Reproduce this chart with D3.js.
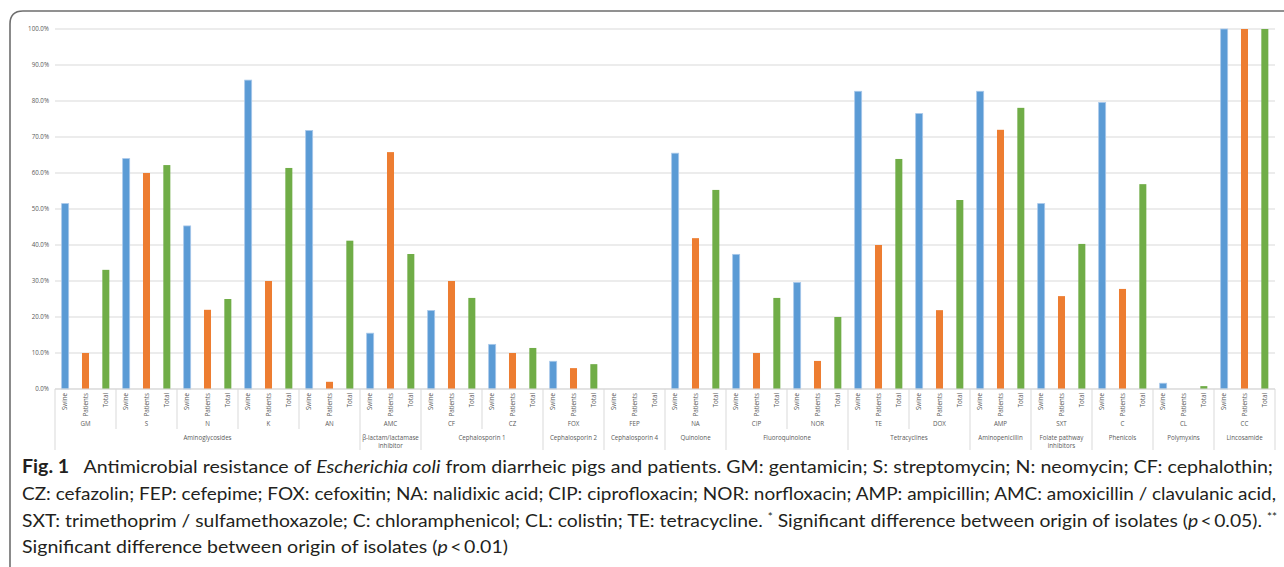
<!DOCTYPE html>
<html>
<head>
<meta charset="utf-8">
<script src="https://cdn.jsdelivr.net/npm/d3@7"></script>
<style>
  html, body { margin: 0; padding: 0; background: #fff; }
  svg { display: block; }
</style>
</head>
<body>
<svg id="chart" width="1284" height="567"></svg>
<script>
// ---------- data ----------
const drugs   = ["GM","S","N","K","AN","AMC","CF","CZ","FOX","FEP","NA","CIP","NOR","TE","DOX","AMP","SXT","C","CL","CC"];
const drugClass = ["Aminoglycosides","Aminoglycosides","Aminoglycosides","Aminoglycosides","Aminoglycosides",
  "β-lactam/lactamase inhibitor","Cephalosporin 1","Cephalosporin 1","Cephalosporin 2","Cephalosporin 4",
  "Quinolone","Fluoroquinolone","Fluoroquinolone","Tetracyclines","Tetracyclines","Aminopenicillin",
  "Folate pathway inhibitors","Phenicols","Polymyxins","Lincosamide"];
const series  = ["Swine","Patients","Total"];
const swine    = [51.5,64.0,45.3,85.8,71.8,15.5,21.8,12.4,7.7,0,65.5,37.4,29.6,82.7,76.5,82.7,51.5,79.6,1.6,100];
const patients = [10.0,60.0,22.0,30.0,2.0,65.8,30.0,10.0,5.8,0,41.9,10.0,7.8,40.0,21.9,72.0,25.8,27.8,0,100];
const total    = [33.1,62.2,25.0,61.4,41.2,37.5,25.3,11.4,6.9,0,55.3,25.3,20.0,63.9,52.5,78.1,40.3,56.9,0.8,100];
const yTicks   = [0,10,20,30,40,50,60,70,80,90,100];
const classLines = {
  "β-lactam/lactamase inhibitor": ["β-lactam/lactamase","inhibitor"],
  "Folate pathway inhibitors": ["Folate pathway","inhibitors"]
};

(function(){
// ---------- styles ----------
const colors = {Swine:"#5b9bd5", Patients:"#ed7d31", Total:"#70ad47"};
const gridColor = "#d9d9d9";
const labelColor = "#595959";
const labelFont = "Open Sans, sans-serif";

const svg = d3.select("#chart");

// frame
svg.append("path")
  .attr("d", "M10,1300 L10,24 Q10,11 23,11 L1300,11")
  .attr("fill","none").attr("stroke","#6e6e6e").attr("stroke-width",1.6);

const pLeft = 55, pRight = 1275, pTop = 29, pBottom = 389;

const x0 = d3.scaleBand().domain(drugs).range([pLeft, pRight]).paddingInner(0).paddingOuter(0);
const x1 = d3.scaleBand().domain(series).range([0, x0.bandwidth()]).paddingInner(0.655).paddingOuter(0.3275);
const y  = d3.scaleLinear().domain([0,100]).range([pBottom, pTop]);

// gridlines
svg.append("g").selectAll("line").data(yTicks).join("line")
  .attr("x1", pLeft).attr("x2", pRight)
  .attr("y1", d => y(d)).attr("y2", d => y(d))
  .attr("stroke", gridColor).attr("stroke-width", 1);

// y axis labels
const yAxis = d3.axisLeft(y).tickValues(yTicks).tickSize(0).tickPadding(6)
  .tickFormat(d => d.toFixed(1) + "%");
const yg = svg.append("g").attr("transform", `translate(${pLeft},0)`).call(yAxis);
yg.select(".domain").remove();
yg.selectAll("text").attr("fill", labelColor).attr("font-size", 6.2).attr("font-family", labelFont);

// bars
const rows = drugs.map((d,i) => ({drug:d, values:[
  {key:"Swine", v:swine[i]}, {key:"Patients", v:patients[i]}, {key:"Total", v:total[i]}]}));
const groups = svg.append("g").selectAll("g").data(rows).join("g")
  .attr("transform", d => `translate(${x0(d.drug)},0)`);
groups.selectAll("rect").data(d => d.values.filter(v => v.v > 0)).join("rect")
  .attr("x", d => x1(d.key))
  .attr("width", x1.bandwidth())
  .attr("y", d => y(d.v))
  .attr("height", d => y(0) - y(d.v))
  .attr("fill", d => colors[d.key])
  .attr("stroke", d => d.key === "Swine" ? "#a8c8ea" : "none")
  .attr("stroke-width", 0.8);

// x axis line
svg.append("line").attr("x1", pLeft).attr("x2", pRight).attr("y1", y(0)).attr("y2", y(0))
  .attr("stroke", gridColor).attr("stroke-width", 1);

// series labels (rotated)
groups.selectAll("text.ser").data(d => d.values).join("text")
  .attr("class","ser")
  .attr("transform", d => `translate(${x1(d.key) + x1.bandwidth()/2 + 2.2},393) rotate(-90)`)
  .attr("text-anchor","end")
  .attr("font-size", 6.2).attr("font-family", labelFont).attr("fill", labelColor)
  .text(d => d.key);

// drug separators (levels 1-2)
const drugBounds = drugs.map(d => x0(d)).concat([pRight]);
svg.append("g").selectAll("line").data(drugBounds).join("line")
  .attr("x1", d => d).attr("x2", d => d)
  .attr("y1", y(0)).attr("y2", 429)
  .attr("stroke", gridColor).attr("stroke-width", 1);

// drug labels
svg.append("g").selectAll("text").data(drugs).join("text")
  .attr("x", d => x0(d) + x0.bandwidth()/2).attr("y", 426)
  .attr("text-anchor","middle")
  .attr("font-size", 6.2).attr("font-family", labelFont).attr("fill", labelColor)
  .text(d => d);

// class groups
const classGroups = [];
drugs.forEach((d,i) => {
  const c = drugClass[i];
  const last = classGroups[classGroups.length-1];
  if (last && last.name === c) last.end = x0(d) + x0.bandwidth();
  else classGroups.push({name:c, start:x0(d), end:x0(d) + x0.bandwidth()});
});
const classBounds = classGroups.map(g => g.start).concat([pRight]);
svg.append("g").selectAll("line").data(classBounds).join("line")
  .attr("x1", d => d).attr("x2", d => d)
  .attr("y1", 429).attr("y2", 450)
  .attr("stroke", gridColor).attr("stroke-width", 1);

const cl = svg.append("g").selectAll("text").data(classGroups).join("text")
  .attr("x", d => (d.start + d.end)/2).attr("y", 439.5)
  .attr("text-anchor","middle")
  .attr("font-size", 6.2).attr("font-family", labelFont).attr("fill", labelColor);
cl.selectAll("tspan").data(d => (classLines[d.name] || [d.name]).map(t => ({t, cx:(d.start + d.end)/2}))).join("tspan")
  .attr("x", d => d.cx)
  .attr("dy", (d,i) => i === 0 ? 0 : 8.5)
  .text(d => d.t);

// caption
const capFont = "Lato, sans-serif";
const capLines = [
  {y:473, len:1251, parts:[["Fig. 1","bold"],["   Antimicrobial resistance of ",""],["Escherichia coli","italic"],[" from diarrheic pigs and patients. GM: gentamicin; S: streptomycin; N: neomycin; CF: cephalothin;",""]]},
  {y:500, len:1254, parts:[["CZ: cefazolin; FEP: cefepime; FOX: cefoxitin; NA: nalidixic acid; CIP: ciprofloxacin; NOR: norfloxacin; AMP: ampicillin; AMC: amoxicillin / clavulanic acid,",""]]},
  {y:527, len:1255, parts:[["SXT: trimethoprim / sulfamethoxazole; C: chloramphenicol; CL: colistin; TE: tetracycline. ",""],["*","sup"],[" Significant difference between origin of isolates (",""],["p","italic"],["\u2009<\u20090.05). ",""],["**","sup"]]},
  {y:553, len:486, parts:[["Significant difference between origin of isolates (",""],["p","italic"],["\u2009<\u20090.01)",""]]}
];
const cap = svg.append("g").selectAll("text").data(capLines).join("text")
  .attr("x", 22).attr("y", d => d.y)
  .attr("font-family", capFont).attr("font-size", 18).attr("fill", "#231f20")
  .attr("textLength", d => d.len).attr("lengthAdjust", "spacingAndGlyphs")
  .style("white-space", "pre");
cap.selectAll("tspan").data(d => d.parts).join("tspan")
  .attr("font-weight", d => d[1] === "bold" ? 700 : 400)
  .attr("font-style", d => d[1] === "italic" ? "italic" : "normal")
  .attr("font-size", d => d[1] === "sup" ? 11 : 18)
  .attr("dy", (d,i,nodes) => {
    if (d[1] === "sup") return -6;
    const prev = i > 0 ? d3.select(nodes[i-1]).datum() : null;
    return prev && prev[1] === "sup" ? 6 : 0;
  })
  .text(d => d[0]);
})();
</script>
</body>
</html>
